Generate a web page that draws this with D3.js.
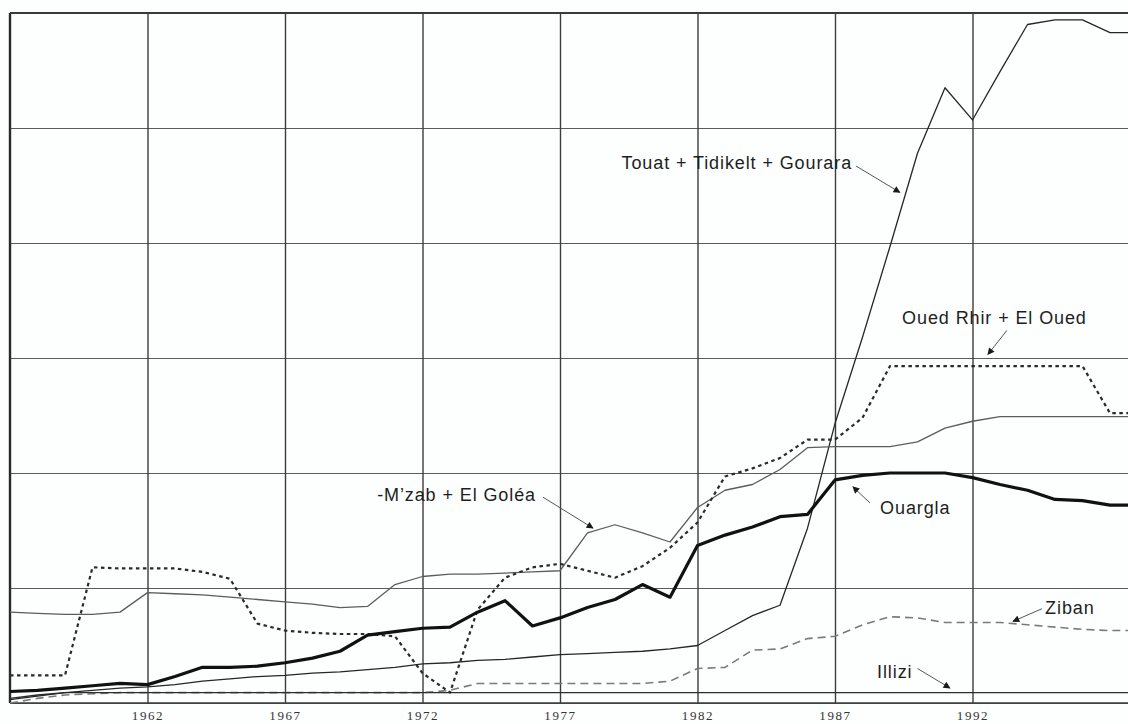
<!DOCTYPE html>
<html>
<head>
<meta charset="utf-8">
<script src="https://cdn.jsdelivr.net/npm/d3@7"></script>
<style>
  html, body { margin: 0; padding: 0; background: #fdfefe; }
  svg { display: block; }
  .lbl { font-family: "Liberation Sans", Arial, sans-serif; font-size: 18px; letter-spacing: 0.9px; fill: #1e1e1e; }
  .yr { font-family: "Liberation Serif", "Times New Roman", serif; font-size: 13px; letter-spacing: 1.6px; fill: #333; }
</style>
</head>
<body>
<svg id="chart" width="1128" height="724"></svg>
<script>
// Years of record
const years = [1957,1958,1959,1960,1961,1962,1963,1964,1965,1966,1967,1968,1969,1970,1971,1972,1973,1974,1975,1976,1977,1978,1979,1980,1981,1982,1983,1984,1985,1986,1987,1988,1989,1990,1991,1992,1993,1994,1995,1996,1997,1998];

// Series values per year
const touat = [0.03,0.06,0.09,0.11,0.13,0.14,0.16,0.19,0.21,0.23,0.24,0.26,0.27,0.29,0.31,0.34,0.35,0.37,0.38,0.40,0.42,0.43,0.44,0.45,0.47,0.50,0.63,0.76,0.85,1.52,2.43,3.18,3.97,4.78,5.35,5.07,5.49,5.90,5.94,5.94,5.83,5.83];
const ouedRhir = [0.24,0.24,0.24,1.18,1.17,1.17,1.17,1.14,1.08,0.69,0.63,0.61,0.60,0.60,0.58,0.26,0.09,0.81,1.09,1.18,1.21,1.15,1.09,1.19,1.35,1.57,1.97,2.04,2.13,2.29,2.29,2.48,2.93,2.93,2.93,2.93,2.93,2.93,2.93,2.93,2.52,2.52];
const mzab = [0.79,0.78,0.77,0.77,0.79,0.96,0.95,0.94,0.92,0.90,0.88,0.86,0.83,0.84,1.03,1.10,1.12,1.12,1.13,1.14,1.15,1.48,1.55,1.48,1.40,1.70,1.85,1.90,2.03,2.22,2.23,2.23,2.23,2.27,2.39,2.45,2.49,2.49,2.49,2.49,2.49,2.49];
const ouargla = [0.10,0.11,0.13,0.15,0.17,0.16,0.23,0.31,0.31,0.32,0.35,0.39,0.45,0.59,0.62,0.65,0.66,0.79,0.89,0.67,0.74,0.83,0.90,1.03,0.92,1.37,1.46,1.53,1.62,1.64,1.94,1.98,2.00,2.00,2.00,1.96,1.90,1.85,1.77,1.76,1.72,1.72];
const ziban = [0.00,0.04,0.07,0.08,0.09,0.09,0.09,0.09,0.09,0.09,0.09,0.09,0.09,0.09,0.09,0.09,0.11,0.17,0.17,0.17,0.17,0.17,0.17,0.17,0.19,0.30,0.31,0.46,0.47,0.56,0.58,0.68,0.75,0.74,0.70,0.70,0.70,0.68,0.66,0.64,0.63,0.63];
const illizi = [0.04,0.07,0.09,0.09,0.09,0.09,0.09,0.09,0.09,0.09,0.09,0.09,0.09,0.09,0.09,0.09,0.09,0.09,0.09,0.09,0.09,0.09,0.09,0.09,0.09,0.09,0.09,0.09,0.09,0.09,0.09,0.09,0.09,0.09,0.09,0.09,0.09,0.09,0.09,0.09,0.09,0.09];

// Axis ticks
const xTicks = [1962,1967,1972,1977,1982,1987,1992];
const yTicks = [0,1,2,3,4,5,6];

// Series labels: text position and arrow (from -> tip) in data space
const labelNames = ["Touat + Tidikelt + Gourara","Oued Rhir + El Oued","-M’zab + El Goléa","Ouargla","Ziban","Illizi"];
const labelAnchor = ["end","start","start","start","start","start"];
const labelAt = [[1987.62,4.70],[1989.44,3.35],[1970.35,1.81],[1988.64,1.70],[1994.64,0.83],[1988.53,0.27]];
const arrowFrom = [[1987.76,4.67],[1993.25,3.24],[1976.38,1.79],[1988.27,1.74],[1994.53,0.82],[1990.0,0.30]];
const arrowTip = [[1989.36,4.44],[1992.56,3.03],[1978.2,1.52],[1987.65,1.88],[1993.47,0.71],[1991.18,0.13]];

const svg = d3.select("#chart");
const padLeft = 10, padTop = 13, baseY = 703, svgW = 1128;
const x = d3.scaleLinear().domain([1957, 1998]).range([padLeft, padLeft + 41 * 27.5]);
const y = d3.scaleLinear().domain([0, 6]).range([baseY, padTop]);

// Horizontal grid
svg.append("g")
  .attr("transform", `translate(${padLeft},0)`)
  .call(d3.axisLeft(y).tickValues(yTicks).tickSize(-(svgW - padLeft)).tickFormat(""))
  .call(g => g.select(".domain").remove())
  .call(g => g.selectAll("line").attr("stroke", "#5a5a5a").attr("stroke-width", 1.2));

// Vertical grid
svg.append("g")
  .attr("transform", `translate(0,${baseY})`)
  .call(d3.axisBottom(x).tickValues(xTicks).tickSize(-(baseY - padTop)).tickFormat(""))
  .call(g => g.select(".domain").remove())
  .call(g => g.selectAll("line").attr("stroke", "#3c3c3c").attr("stroke-width", 1.4));

// Year labels, baseline just under the plot
svg.append("g")
  .attr("transform", `translate(0,${baseY})`)
  .call(d3.axisBottom(x).tickValues(xTicks).tickSize(0).tickPadding(0).tickFormat(d3.format("d")))
  .call(g => g.select(".domain").remove())
  .call(g => g.selectAll("text").attr("class", "yr").attr("y", 17).attr("dy", null));
svg.selectAll("g").attr("font-size", null).attr("font-family", null);

// Frame: left edge, top edge and base line
svg.append("line").attr("x1", padLeft).attr("x2", padLeft).attr("y1", padTop).attr("y2", baseY)
  .attr("stroke", "#2a2a2a").attr("stroke-width", 2.4);
svg.append("line").attr("x1", padLeft).attr("x2", svgW).attr("y1", y(6)).attr("y2", y(6))
  .attr("stroke", "#3a3a3a").attr("stroke-width", 1.8);
svg.append("line").attr("x1", padLeft).attr("x2", svgW).attr("y1", y(0)).attr("y2", y(0))
  .attr("stroke", "#3a3a3a").attr("stroke-width", 1.6);

const line = d3.line().x((d, i) => x(years[i])).y(d => y(d));

const series = [
  { v: ziban,    stroke: "#7a7a7a", w: 1.6, dash: "8,5" },
  { v: illizi,   stroke: "#2e2e2e", w: 1.4, dash: null },
  { v: touat,    stroke: "#262626", w: 1.3, dash: null },
  { v: mzab,     stroke: "#5c5c5c", w: 1.3, dash: null },
  { v: ouedRhir, stroke: "#2a2a2a", w: 2.2, dash: "3.5,3.5" },
  { v: ouargla,  stroke: "#111111", w: 3.2, dash: null }
];

svg.append("g").selectAll("path").data(series).join("path")
  .attr("d", s => line(s.v))
  .attr("fill", "none")
  .attr("stroke", s => s.stroke)
  .attr("stroke-width", s => s.w)
  .attr("stroke-dasharray", s => s.dash)
  .attr("stroke-linejoin", "round");

// Arrow marker
svg.append("defs").append("marker")
  .attr("id", "arrowhead")
  .attr("viewBox", "0 0 10 10")
  .attr("refX", 9).attr("refY", 5)
  .attr("markerWidth", 9).attr("markerHeight", 7)
  .attr("markerUnits", "userSpaceOnUse")
  .attr("orient", "auto")
  .append("path").attr("d", "M0,0 L10,5 L0,10 z").attr("fill", "#1a1a1a");

const ann = svg.append("g");
labelNames.forEach((name, i) => {
  ann.append("line")
    .attr("x1", x(arrowFrom[i][0])).attr("y1", y(arrowFrom[i][1]))
    .attr("x2", x(arrowTip[i][0])).attr("y2", y(arrowTip[i][1]))
    .attr("stroke", "#555").attr("stroke-width", 1)
    .attr("marker-end", "url(#arrowhead)");
  ann.append("text")
    .attr("class", "lbl")
    .attr("x", x(labelAt[i][0])).attr("y", y(labelAt[i][1]))
    .attr("dy", "0.35em")
    .attr("text-anchor", labelAnchor[i])
    .text(name);
});
</script>
</body>
</html>
